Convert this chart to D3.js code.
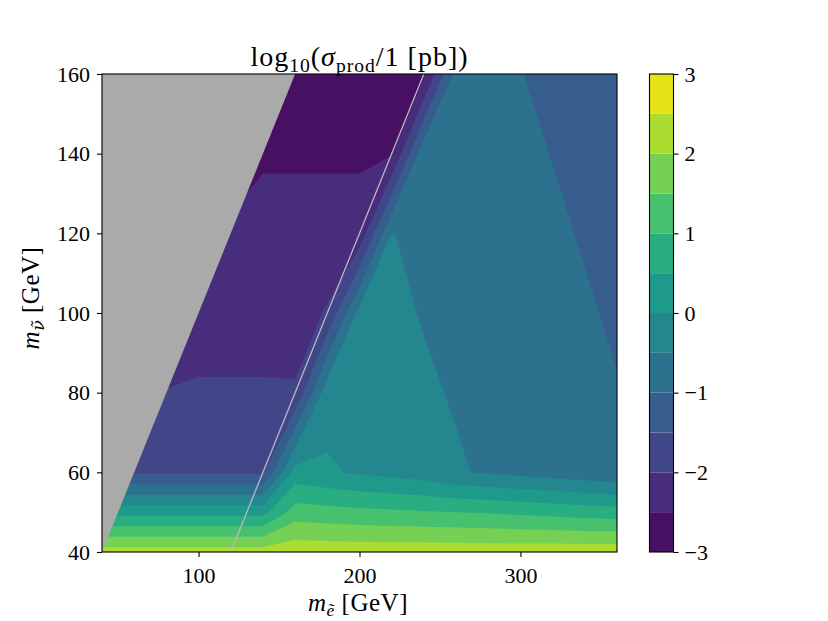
<!DOCTYPE html>
<meta charset="utf-8">
<style>
body { margin: 0; background: #fff; }
text { font-family: "Liberation Serif", "DejaVu Serif", serif; white-space: pre; }
</style>
<svg width="828" height="621"></svg>
<script src="https://cdn.jsdelivr.net/npm/d3@7"></script>
<script>
// scan grid (GeV)
var mSelectron = [40, 60, 80, 100, 120, 140, 160, 180, 200, 220, 240, 260, 280, 300, 320, 340, 360]
var mSneutrino = [40, 50, 60, 80, 100, 120, 140, 160]

// log10(sigma_prod / 1 pb), one array per m_sneutrino row, ordered like mSelectron
var logSigma40  = [2.23, 2.23, 2.23, 2.23, 2.23, 2.23, 2.33, 2.31, 2.30, 2.30, 2.30, 2.30, 2.29, 2.30, 2.31, 2.31, 2.32]
var logSigma50  = [0.33, 0.33, 0.33, 0.33, 0.33, 0.33, 1.24, 1.18, 1.12, 1.08, 1.04, 1.00, 0.96, 0.90, 0.84, 0.78, 0.72]
var logSigma60  = [-1.58, -1.58, -1.58, -1.58, -1.58, -1.58, 0.19, 0.06, -0.06, -0.16, -0.26, -0.46, -0.55, -0.64, -0.73, -0.82, -0.92]
var logSigma80  = [-1.99, -1.99, -1.99, -1.95, -1.95, -1.95, -1.95, -0.18, -0.27, -0.36, -0.45, -0.53, -0.62, -0.71, -0.80, -0.89, -0.98]
var logSigma100 = [-2.20, -2.20, -2.20, -2.20, -2.20, -2.20, -2.25, -1.95, -0.34, -0.43, -0.52, -0.60, -0.69, -0.78, -0.87, -0.96, -1.05]
var logSigma120 = [-2.35, -2.35, -2.35, -2.35, -2.35, -2.35, -2.35, -2.35, -2.35, -0.49, -0.59, -0.67, -0.76, -0.85, -0.94, -1.03, -1.12]
var logSigma140 = [-2.55, -2.55, -2.55, -2.55, -2.90, -2.55, -2.55, -2.55, -2.55, -2.55, -0.66, -0.74, -0.83, -0.92, -1.01, -1.10, -1.19]
var logSigma160 = [-2.65, -2.65, -2.65, -2.65, -2.65, -2.65, -2.65, -2.65, -2.65, -2.65, -2.60, -0.81, -0.90, -0.99, -1.08, -1.17, -1.26]

var levels = [-3, -2.5, -2, -1.5, -1, -0.5, 0, 0.5, 1, 1.5, 2, 2.5, 3]
var cbarTicks = [-3, -2, -1, 0, 1, 2, 3]
var xTicks = [100, 200, 300]
var yTicks = [40, 60, 80, 100, 120, 140, 160]

var svg = d3.select("svg")
var plotL = 102, plotR = 617, plotT = 74, plotB = 552

var x = d3.scaleLinear().domain([40, 360]).range([plotL, plotR])
var y = d3.scaleLinear().domain([40, 160]).range([plotB, plotT])
var c = d3.scaleLinear().domain([-3, 3]).range([plotB, plotT])

function bandColor(i){
  return d3.interpolateViridis((i + 0.5) / (levels.length - 1))
}

var rows = [logSigma40, logSigma50, logSigma60, logSigma80, logSigma100, logSigma120, logSigma140, logSigma160]
var n = mSelectron.length, m = mSneutrino.length
var values = [].concat.apply([], rows)

// contour coordinates are in grid units, sample k sits at k + 0.5
function gridPos(arr, g){
  var s = Math.max(0, Math.min(arr.length - 1, g - 0.5))
  var i = Math.min(arr.length - 2, Math.floor(s))
  return arr[i] + (s - i) * (arr[i + 1] - arr[i])
}

var path = d3.geoPath(d3.geoTransform({
  point: function(px, py){ this.stream.point(x(gridPos(mSelectron, px)), y(gridPos(mSneutrino, py))) }
}))

var bands = d3.contours().size([n, m]).thresholds(levels.slice(0, -1))(values)

svg.append("g")
  .selectAll("path")
  .data(bands)
  .enter().append("path")
    .attr("d", path)
    .attr("fill", function(d){ return bandColor(levels.indexOf(d.value)) })

// kinematically excluded: m_sneutrino > m_selectron
var excluded = [[40, 40], [160, 160], [40, 160]]
svg.append("path")
  .attr("d", d3.line().x(function(d){ return x(d[0]) }).y(function(d){ return y(d[1]) })(excluded) + "Z")
  .attr("fill", "#aaaaaa")

// m_selectron = m_sneutrino + 80
var wLine = [[120, 40], [240, 160]]
svg.append("path")
  .attr("d", d3.line().x(function(d){ return x(d[0]) }).y(function(d){ return y(d[1]) })(wLine))
  .attr("stroke", "#bdb8bf")
  .attr("stroke-width", 1.3)
  .attr("fill", "none")

svg.append("rect")
  .attr("x", plotL).attr("y", plotT)
  .attr("width", plotR - plotL).attr("height", plotB - plotT)
  .attr("fill", "none").attr("stroke", "#000").attr("stroke-width", 1.1)

function styleAxis(g){
  g.select(".domain").remove()
  g.attr("font-family", null).attr("font-size", 22)
  g.selectAll(".tick line").attr("stroke-width", 1.1)
}

svg.append("g")
  .attr("transform", "translate(0," + plotB + ")")
  .call(d3.axisBottom(x).tickValues(xTicks).tickSize(5).tickPadding(10).tickFormat(d3.format("d")))
  .call(styleAxis)

svg.append("g")
  .attr("transform", "translate(" + plotL + ",0)")
  .call(d3.axisLeft(y).tickValues(yTicks).tickSize(5).tickPadding(7).tickFormat(d3.format("d")))
  .call(styleAxis)

// colorbar
var cbX = 649.5, cbW = 24
svg.append("g")
  .selectAll("rect")
  .data(d3.range(levels.length - 1))
  .enter().append("rect")
    .attr("x", cbX)
    .attr("y", function(i){ return c(levels[i + 1]) })
    .attr("width", cbW)
    .attr("height", function(i){ return c(levels[i]) - c(levels[i + 1]) })
    .attr("fill", bandColor)
svg.append("rect")
  .attr("x", cbX).attr("y", plotT).attr("width", cbW).attr("height", plotB - plotT)
  .attr("fill", "none").attr("stroke", "#000").attr("stroke-width", 1.1)
svg.append("g")
  .attr("transform", "translate(" + (cbX + cbW) + ",0)")
  .call(d3.axisRight(c).tickValues(cbarTicks).tickSize(5).tickPadding(6).tickFormat(d3.format("d")))
  .call(styleAxis)

// math-style labels: [text, "" | "i" | "sub" | "subi", optional font]
function mathLabel(sel, parts, size, spacing){
  var t = sel.append("text").attr("font-size", size).attr("text-anchor", "middle")
    .attr("letter-spacing", spacing)
  var shift = 0
  parts.forEach(function(p){
    var s = t.append("tspan").text(p[0])
    var sub = p[1].indexOf("sub") >= 0
    var want = sub ? size * 0.2 : 0
    s.attr("dy", want - shift)
    shift = want
    if(sub) s.attr("font-size", size * 0.7)
    if(p[1].indexOf("i") >= 0) s.attr("font-style", "italic")
    if(p[2]) s.attr("font-family", p[2])
  })
  return t
}

mathLabel(svg, [["log", ""], ["10", "sub"], ["(", ""], ["σ", "i"], ["prod", "sub"], ["/1 [pb])", ""]], 28, 1)
  .attr("x", 359.5).attr("y", 66)

mathLabel(svg, [["m", "i"], ["ẽ", "subi"], [" [GeV]", ""]], 25, 0.5)
  .attr("x", 358).attr("y", 611)

mathLabel(svg, [["m", "i"], ["ν\u0303", "subi", "DejaVu Serif"], [" [GeV]", ""]], 25, 0.5)
  .attr("transform", "translate(39,298) rotate(-90)")
</script>
